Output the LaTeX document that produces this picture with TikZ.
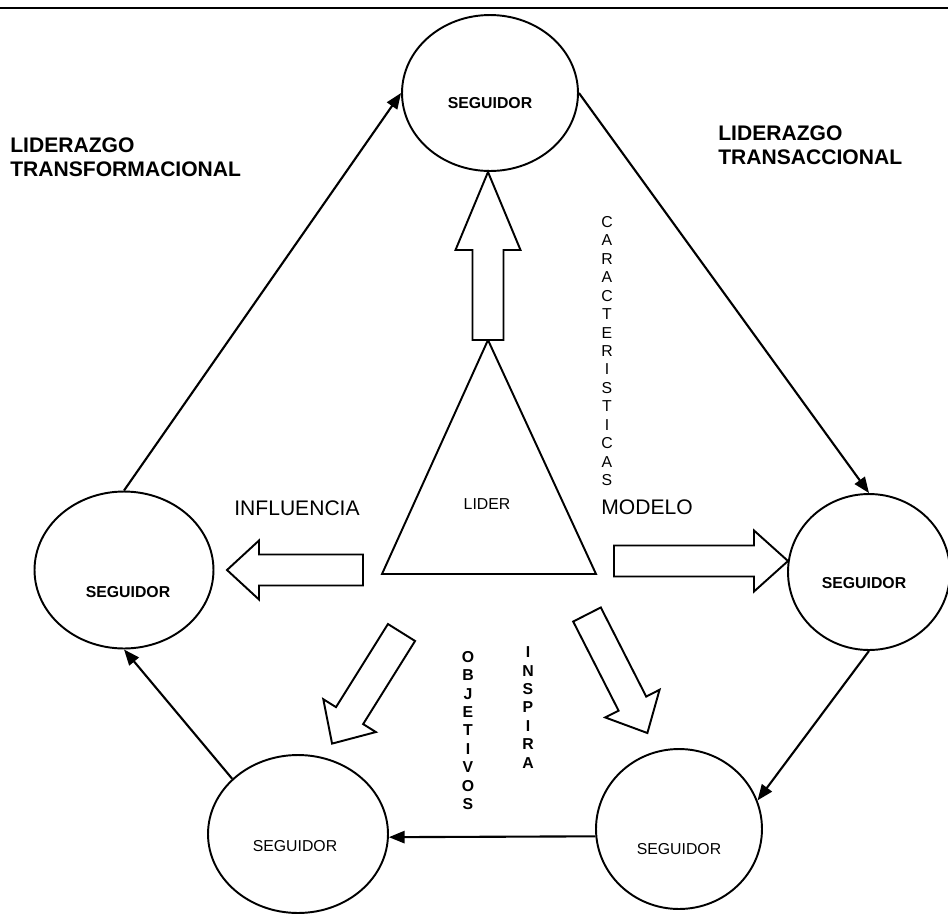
\documentclass[tikz,border=0pt]{standalone}
\usepackage{fontspec}
\setmainfont{Liberation Sans}
\usetikzlibrary{arrows.meta,shapes.geometric,positioning}

\tikzset{
  seg/.style={draw,ellipse,line width=1.1pt,inner sep=0pt},
  segtxt/.style={font=\fontsize{9}{10.8}\selectfont},
  segbf/.style={font=\bfseries\fontsize{9}{10.8}\selectfont},
  conn/.style={line width=1.2pt,-{Triangle[length=9pt,width=7pt]}},
  blk/.style={draw,line width=1.1pt,fill=white,line join=miter},
  titulo/.style={font=\bfseries\fontsize{12}{13.8}\selectfont,align=left,anchor=west,inner sep=0pt},
  rotulo/.style={font=\fontsize{12}{14}\selectfont,inner sep=0pt},
  vert/.style={font=\fontsize{9}{10.5}\selectfont,align=center,inner sep=0pt},
}

% flecha de bloque: base, angulo, largo, ancho cuerpo, ancho punta, largo punta
\newcommand\flecha[6]{%
  \begin{scope}[shift={#1},rotate=#2]
    \draw[blk] (0,-#4/2) -- ({#3-#6},-#4/2) -- ({#3-#6},-#5/2) -- (#3,0)
      -- ({#3-#6},#5/2) -- ({#3-#6},#4/2) -- (0,#4/2) -- cycle;
  \end{scope}}

\begin{document}
\begin{tikzpicture}[x=0.02cm,y=-0.02cm]
  \useasboundingbox (0,0) rectangle (948,914);
  \draw[line width=1pt] (0,8) -- (948,8);

  % seguidores
  \node[seg,minimum width=3.52cm,minimum height=3.12cm,
        label={[segbf,yshift=-0.2cm]center:SEGUIDOR}] (st) at (490,93) {};
  \node[seg,minimum width=3.58cm,minimum height=3.14cm,
        label={[segbf,yshift=-0.44cm,xshift=0.08cm]center:SEGUIDOR}] (sl) at (124,570) {};
  \node[seg,minimum width=3.24cm,minimum height=3.12cm,
        label={[segbf,yshift=-0.22cm,xshift=-0.1cm]center:SEGUIDOR}] (sr) at (869,572) {};
  \node[seg,minimum width=3.6cm,minimum height=3.16cm,
        label={[segtxt,yshift=-0.24cm,xshift=-0.06cm]center:SEGUIDOR}] (sbl) at (298,834) {};
  \node[seg,minimum width=3.32cm,minimum height=3.2cm,
        label={[segtxt,yshift=-0.4cm]center:SEGUIDOR}] (sbr) at (679,829) {};

  % lider
  \coordinate (ta) at (488,340);
  \coordinate (tl) at (382,574);
  \coordinate (tr) at (596,574);
  \draw[line width=1.1pt,line join=miter] (ta) -- (tl) -- (tr) -- cycle;
  \node[segtxt] (lider) at (487,504) {LIDER};

  % flechas de bloque
  \flecha{(488,340)}{90}{168}{31}{65}{78}
  \flecha{(614,561)}{0}{174}{31}{61}{34}
  \flecha{(363,570)}{180}{136}{31}{59}{32}
  \flecha{(401.5,632.5)}{-122}{131}{32}{62}{33}
  \flecha{(587,614.5)}{-63}{133}{31}{61}{33}

  % ciclo de liderazgo
  \draw[conn] (sl.north) -- (st.west);
  \draw[conn] (st.east) -- (sr.north);
  \draw[conn] (sr.south) -- (sbr.20);
  \draw[conn] (sbr.185) -- (sbl.-2);
  \draw[conn] (sbl.140) -- (sl.south);

  % textos
  \node[titulo] (trf) at (10,157) {LIDERAZGO\\TRANSFORMACIONAL};
  \node[titulo] (trc) at (718,145) {LIDERAZGO\\TRANSACCIONAL};
  \node[rotulo] (infl) at (297,508) {INFLUENCIA};
  \node[rotulo] (mod) at (647,507) {MODELO};
  \node[vert] (car) at (607,351) {C\\A\\R\\A\\C\\T\\E\\R\\I\\S\\T\\I\\C\\A\\S};
  \node[vert,font=\bfseries\fontsize{9}{10.5}\selectfont] (obj) at (468,730.5) {O\\B\\J\\E\\T\\I\\V\\O\\S};
  \node[vert,font=\bfseries\fontsize{9}{10.5}\selectfont] (ins) at (528,707.5) {I\\N\\S\\P\\I\\R\\A};
\end{tikzpicture}
\end{document}
